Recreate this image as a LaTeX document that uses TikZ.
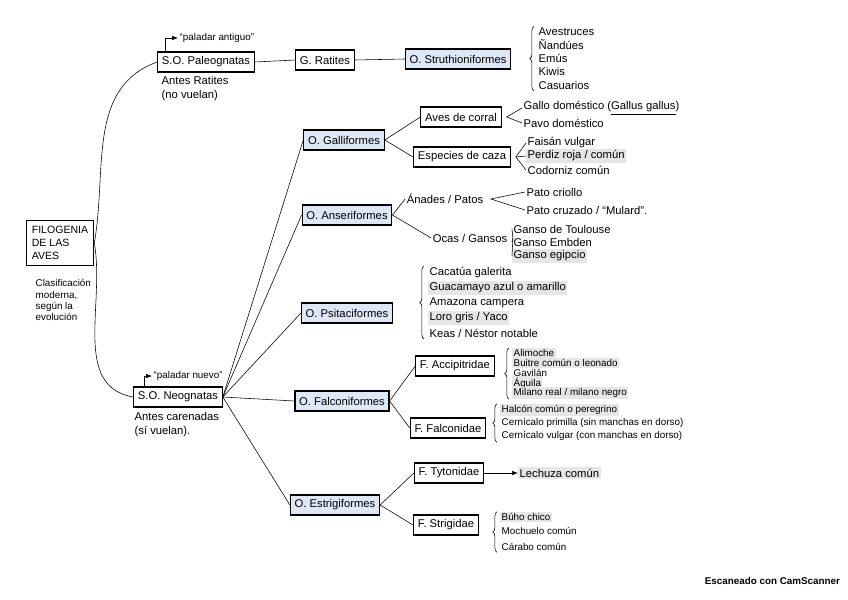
\documentclass[tikz,border=0pt]{standalone}
\usepackage{fontspec}
\setmainfont{Liberation Sans}
\usepackage{xcolor}
\usetikzlibrary{arrows.meta,positioning,calc,decorations.pathreplacing}
\definecolor{ordblue}{HTML}{DDE7F5}
\definecolor{hlgray}{HTML}{E6E6E6}

\begin{document}
\begin{tikzpicture}[x=0.025cm, y=-0.025cm,
  box/.style={draw, thick, inner sep=3pt, minimum height=0.5cm, font=\fontsize{8}{9}\selectfont},
  ord/.style={box, fill=ordblue},
  lab/.style={font=\fontsize{8}{9.5}\selectfont, align=left, inner sep=1pt},
  item/.style={lab, anchor=west},
  tiny/.style={font=\fontsize{7}{8}\selectfont, align=left, inner sep=1pt, anchor=west},
  hl/.style={fill=hlgray},
  brc/.style={decorate, decoration={brace, amplitude=3pt}},
  arrow/.style={-{Latex[length=1.5mm]}}
]
\useasboundingbox (0,0) rectangle (848,599);

% root
\node[box, align=left, inner sep=4pt, font=\fontsize{7.5}{9.5}\selectfont] (fil) at (60,243) {FILOGENIA\\DE LAS\\AVES};
\node[tiny, anchor=north west] (filnota) at (34,278) {Clasificación\\moderna,\\según la\\evolución};

% paleognatas
\node[box] (paleo) at (206,62) {S.O. Paleognatas};
\node[tiny] (palant) at (178,38) {“paladar antiguo”};
\draw[arrow] ([xshift=6pt]paleo.north west) |- (palant.west);
\node[lab, anchor=north west] (paleonota) at (160,75) {Antes Ratites\\(no vuelan)};
\node[box] (ratites) at (325,60) {G. Ratites};
\node[ord] (struthio) at (458,59) {O. Struthioniformes};
\draw (paleo.east) -- (ratites.west);
\draw (ratites.east) -- (struthio.west);
\foreach \n/\y/\t in {1/32/Avestruces,2/45/Ñandúes,3/58/Emús,4/71/Kiwis,5/85/Casuarios}
  \node[item] (st\n) at (537,\y) {\t};
\draw[brc] ($(st5.south west)+(-3,0)$) -- ($(st1.north west)+(-3,0)$);

% neognatas
\node[box] (neo) at (178,397) {S.O. Neognatas};
\node[tiny] (palnue) at (152,376) {“paladar nuevo”};
\draw[arrow] ([xshift=8pt]neo.north west) |- (palnue.west);
\node[lab, anchor=north west] (neonota) at (133,411) {Antes carenadas\\(sí vuelan).};

\draw (fil.east) to[out=80, in=200] (paleo.west);
\draw (fil.east) to[out=-80, in=170] (neo.west);

% galliformes
\node[ord] (galli) at (344,140) {O. Galliformes};
\node[box] (corral) at (461,117) {Aves de corral};
\node[box] (caza) at (462,157) {Especies de caza};
\draw (galli.east) -- (corral.west);
\draw (galli.east) -- (caza.west);
\node[item] (gal1) at (522,108) {Gallo doméstico (\underline{Gallus gallus})};
\node[item] (gal2) at (522,123) {Pavo doméstico};
\coordinate (corralv) at ($(corral.east)+(5,0)$);
\draw (gal1.west) -- (corralv) -- (gal2.west);
\foreach \n/\y/\t/\s in {1/143/Faisán vulgar/,2/156/{Perdiz roja / común}/hl,3/170/Codorniz común/}
  \node[item, \s] (caza\n) at (526,\y) {\t};
\coordinate (cazav) at ($(caza.east)+(5,0)$);
\draw (caza1.west) -- (cazav) -- (caza3.west);
\draw (cazav) -- (caza2.west);

% anseriformes
\node[ord] (anser) at (347,215) {O. Anseriformes};
\node[lab] (anades) at (445,199) {Ánades / Patos};
\node[lab] (ocas) at (470,238) {Ocas / Gansos};
\draw (anser.east) -- (anades.west);
\draw (anser.east) -- (ocas.west);
\node[item] (pato1) at (525,192) {Pato criollo};
\node[item] (pato2) at (525,210) {Pato cruzado / “Mulard”.};
\coordinate (anadesv) at ($(anades.east)+(6,0)$);
\draw (pato1.west) -- (anadesv) -- (pato2.west);
\foreach \n/\y/\t/\s in {1/229/Ganso de Toulouse/,2/242/Ganso Embden/,3/256/Ganso egipcio/hl}
  \node[item, \s] (ganso\n) at (512,\y) {\t};
\coordinate (ocasv) at ($(ocas.east)+(4,0)$);
\draw (ganso1.west) -- (ocasv) -- (ganso3.west);
\draw (ocasv) -- (ganso2.west);

% psitaciformes
\node[ord] (psita) at (347,313) {O. Psitaciformes};
\foreach \n/\y/\t/\s in {1/273/Cacatúa galerita/,2/288/Guacamayo azul o amarillo/hl,3/303/Amazona campera/,4/318/{Loro gris / Yaco}/hl,5/333/{Keas / Néstor notable}/}
  \node[item, \s] (psi\n) at (428,\y) {\t};
\draw[brc] ($(psi5.south west)+(-4,0)$) -- ($(psi1.north west)+(-4,0)$);

% falconiformes
\node[ord] (falco) at (342,401) {O. Falconiformes};
\node[box] (accip) at (455,366) {F. Accipitridae};
\node[box] (falcon) at (448,428) {F. Falconidae};
\draw (falco.east) -- (accip.west);
\draw (falco.east) -- (falcon.west);
\foreach \n/\y/\t/\s in {1/353/Alimoche/hl,2/363/Buitre común o leonado/hl,3/373/Gavilán/,4/383/Águila/hl,5/393/{Milano real / milano negro}/hl}
  \node[tiny, \s] (acc\n) at (512,\y) {\t};
\draw[brc] ($(acc5.south west)+(-3,0)$) -- ($(acc1.north west)+(-3,0)$);
\foreach \n/\y/\t/\s in {1/410/Halcón común o peregrino/hl,2/423/Cernícalo primilla (sin manchas en dorso)/,3/436/Cernícalo vulgar (con manchas en dorso)/}
  \node[tiny, \s] (fal\n) at (500,\y) {\t};
\draw[brc] ($(fal3.south west)+(-3,0)$) -- ($(fal1.north west)+(-3,0)$);

% estrigiformes
\node[ord] (estri) at (335,505) {O. Estrigiformes};
\node[box] (tyto) at (449,473) {F. Tytonidae};
\node[box] (strix) at (446,525) {F. Strigidae};
\draw (estri.east) -- (tyto.west);
\draw (estri.east) -- (strix.west);
\node[item, hl] (lechuza) at (518,473) {Lechuza común};
\draw[arrow] (tyto.east) -- (lechuza.west);
\foreach \n/\y/\t/\s in {1/517/Búho chico/hl,2/531/Mochuelo común/,3/547/Cárabo común/}
  \node[tiny, \s] (strx\n) at (500,\y) {\t};
\draw[brc] ($(strx3.south west)+(-3,0)$) -- ($(strx1.north west)+(-3,0)$);

% neognatas branches
\foreach \o in {galli,anser,psita,falco,estri}
  \draw (neo.east) -- (\o.west);

\node[font=\bfseries\fontsize{7}{8}\selectfont, anchor=east] (scan) at (845,581) {Escaneado con CamScanner};
\end{tikzpicture}
\end{document}
